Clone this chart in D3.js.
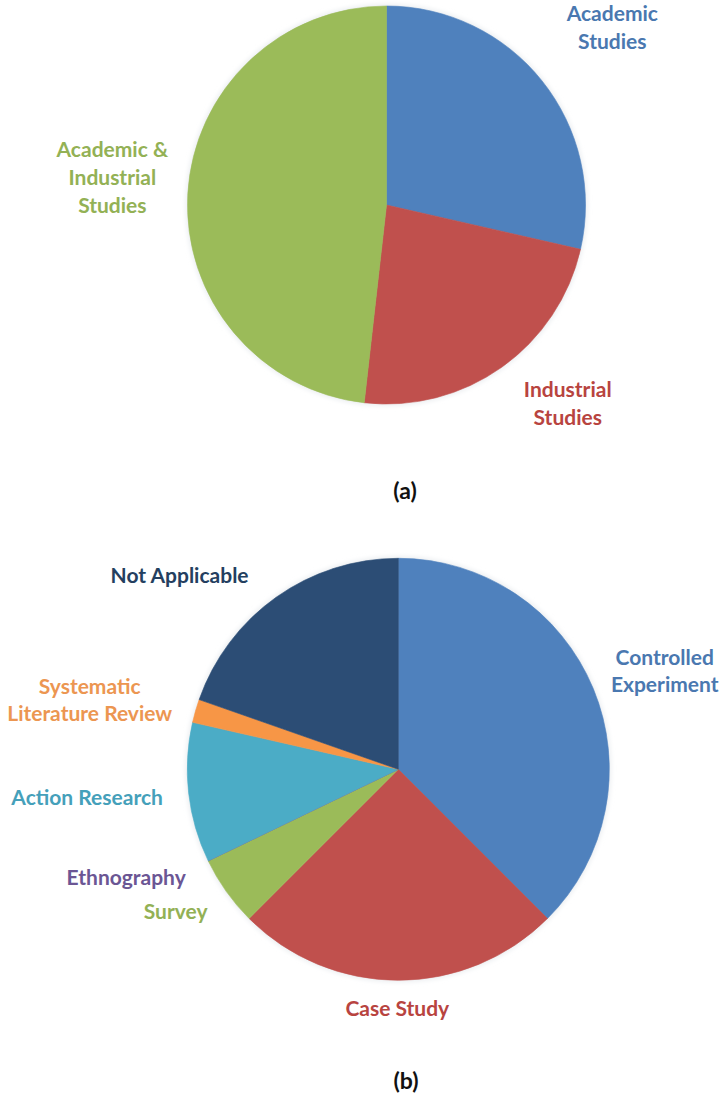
<!DOCTYPE html>
<html>
<head>
<meta charset="utf-8">
<script src="https://cdn.jsdelivr.net/npm/d3@7"></script>
<style>
  body { margin: 0; background: #fff; }
  text { font-family: Lato, "Open Sans", sans-serif; font-weight: bold; }
</style>
</head>
<body>
<svg width="725" height="1097"></svg>
<script>
// data: number of studies per category
var contextCategories = ["Academic Studies", "Industrial Studies", "Academic & Industrial Studies"];
var contextValues = [16, 13, 27];

var methodCategories = ["Controlled Experiment", "Case Study", "Survey", "Ethnography",
  "Action Research", "Systematic Literature Review", "Not Applicable"];
var methodValues = [21, 14, 3, 0, 6, 1, 11];

// layout only
var contextLines = [["Academic", "Studies"], ["Industrial", "Studies"], ["Academic &", "Industrial", "Studies"]];
var methodLines = [["Controlled", "Experiment"], ["Case Study"], ["Survey"], ["Ethnography"],
  ["Action Research"], ["Systematic", "Literature Review"], ["Not Applicable"]];

var svg = d3.select("svg");

function drawPie(cfg) {
  var pie = d3.pie().sort(null).value(function (d) { return d; });
  var arcs = pie(cfg.values);
  var arc = d3.arc().innerRadius(0).outerRadius(cfg.r);
  var labelArc = d3.arc().innerRadius(cfg.r * cfg.labelK).outerRadius(cfg.r * cfg.labelK);
  var color = d3.scaleOrdinal().domain(cfg.categories).range(cfg.colors);
  var textColor = d3.scaleOrdinal().domain(cfg.categories).range(cfg.textColors);

  var g = svg.append("g").attr("transform", "translate(" + cfg.cx + "," + cfg.cy + ")");

  g.append("circle")
    .attr("r", cfg.r + 1.5)
    .attr("fill", "#e9ecef")
    .attr("filter", "url(#soft)");

  g.selectAll("path.slice")
    .data(arcs)
    .enter()
    .append("path")
    .attr("class", "slice")
    .attr("d", arc)
    .attr("fill", function (d, i) { return color(cfg.categories[i]); })
    .attr("stroke", function (d, i) { return color(cfg.categories[i]); })
    .attr("stroke-width", 0.6);

  var labels = g.selectAll("text.lbl")
    .data(arcs)
    .enter()
    .append("text")
    .attr("class", "lbl")
    .attr("text-anchor", "middle")
    .attr("font-size", 21)
    .attr("fill", function (d, i) { return textColor(cfg.categories[i]); })
    .attr("transform", function (d, i) {
      var c = labelArc.centroid(d);
      var n = cfg.nudge[i];
      return "translate(" + (c[0] + n[0]) + "," + (c[1] + n[1]) + ")";
    });

  labels.each(function (d, i) {
    var lines = cfg.lines[i];
    var t = d3.select(this);
    lines.forEach(function (s, j) {
      t.append("tspan")
        .attr("x", 0)
        .attr("y", (j - (lines.length - 1) / 2) * cfg.lineH)
        .attr("dy", "0.35em")
        .text(s);
    });
  });

  svg.append("text")
    .attr("x", cfg.captionX)
    .attr("y", cfg.captionY)
    .attr("dy", "0.35em")
    .attr("text-anchor", "middle")
    .attr("font-size", 23)
    .attr("fill", "#111")
    .text(cfg.caption);
}

var defs = svg.append("defs");
defs.append("filter").attr("id", "soft")
  .attr("x", "-10%").attr("y", "-10%").attr("width", "120%").attr("height", "120%")
  .append("feGaussianBlur").attr("stdDeviation", 2.5);

drawPie({
  categories: contextCategories,
  values: contextValues,
  lines: contextLines,
  colors: ["#4F81BD", "#C0504D", "#9BBB59"],
  textColors: ["#4A78B0", "#B8443F", "#93B155"],
  cx: 386.5, cy: 205, r: 199,
  labelK: 1.4, lineH: 28,
  nudge: [[8, -4], [20, -29], [4, -12]],
  caption: "(a)", captionX: 405, captionY: 491
});

drawPie({
  categories: methodCategories,
  values: methodValues,
  lines: methodLines,
  colors: ["#4F81BD", "#C0504D", "#9BBB59", "#8064A2", "#4BACC6", "#F79646", "#2C4D75"],
  textColors: ["#4A78B0", "#B8443F", "#93B155", "#6B5694", "#45A0BA", "#EC9651", "#243F60"],
  cx: 398.3, cy: 769.3, r: 211,
  labelK: 1.3, lineH: 27,
  nudge: [[13, 7], [-1, -35], [1, -16.5], [-25, -11], [-38.6, -2], [-45, 7], [-60, 30]],
  caption: "(b)", captionX: 406, captionY: 1081
});
</script>
</body>
</html>
